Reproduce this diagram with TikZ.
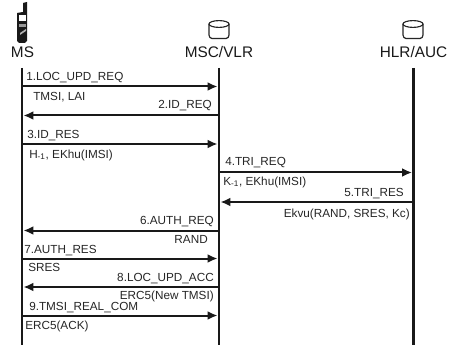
\documentclass[tikz,border=0pt]{standalone}
\usepackage{fontspec}
\setmainfont{Liberation Sans}
\usetikzlibrary{arrows.meta}
\tikzset{
  head/.style={inner sep=0pt,font=\fontsize{11.5pt}{12pt}\selectfont,text=black!90},
  lbl/.style={inner sep=0pt,font=\fontsize{8.8pt}{9pt}\selectfont,text=black!85},
  life/.style={line width=1.9pt,black!90},
  msg/.style={line width=1.5pt,black!90,-{Latex[length=7.5pt,width=6.5pt]},shorten >=1pt},
  db/.style={line width=0.85pt,black!85,fill=white},
}
\newcommand{\dbicon}[1]{%
  \draw[db] (#1-10,24) -- (#1-10,35) to[out=-90,in=180] (#1-7,38.5) -- (#1+7,38.5) to[out=0,in=-90] (#1+10,35) -- (#1+10,24);
  \draw[db] (#1,24) ellipse (10 and 3.4);
}
\begin{document}
\begin{tikzpicture}[x=0.75pt,y=-0.75pt]
\useasboundingbox (0,0) rectangle (456,345);
\fill[white] (0,0) rectangle (456,345);
% phone
\fill[black!90] (17,13) -- (23,12) -- (23,3) -- (27,2) -- (27,41) -- (25,43) -- (19,43) -- (17,41) -- cycle;
\fill[white] (19,15) rectangle (25.5,21);
\fill[white!60!black] (19,24) rectangle (25.5,27);
\fill[black!30] (20,33) -- (26,29) -- (26,31) -- (20,35) -- cycle;
\dbicon{219}
\dbicon{413}
\node[head] (ms) at (22.5,52) {MS};
\node[head] (msc) at (219,52) {MSC/VLR};
\node[head] (hlr) at (413.5,52) {HLR/AUC};
\coordinate (a0) at (22,68); \coordinate (aE) at (22,345);
\coordinate (b0) at (219,68); \coordinate (bE) at (219,345);
\coordinate (c0) at (413.5,68); \coordinate (cE) at (413.5,345);
\draw[life] (a0) -- (aE);
\draw[life] (b0) -- (bE);
\draw[life] (c0) -- (cE);
\foreach \n/\y in {1/86.5,2/115.5,3/144,6/230.5,7/258.5,8/287,9/315.5}{
  \coordinate (a\n) at (22,\y); \coordinate (b\n) at (219,\y);
}
\foreach \n/\y in {4/172.5,5/202}{
  \coordinate (b\n) at (219,\y); \coordinate (c\n) at (413.5,\y);
}
\draw[msg] (a1) -- (b1);
\draw[msg] (b2) -- (a2);
\draw[msg] (a3) -- (b3);
\draw[msg] (b4) -- (c4);
\draw[msg] (c5) -- (b5);
\draw[msg] (b6) -- (a6);
\draw[msg] (a7) -- (b7);
\draw[msg] (b8) -- (a8);
\draw[msg] (a9) -- (b9);
\node[lbl,anchor=west] (l1) at (26,77.5) {1.LOC\_UPD\_REQ};
\node[lbl,anchor=west] (l1b) at (33,97) {TMSI, LAI};
\node[lbl,anchor=east] (l2) at (212,105.5) {2.ID\_REQ};
\node[lbl,anchor=west] (l3) at (27,135.5) {3.ID\_RES};
\node[lbl,anchor=west] (l3b) at (29,155) {H\textsubscript{-1}, EKhu(IMSI)};
\node[lbl,anchor=west] (l4) at (225,163) {4.TRI\_REQ};
\node[lbl,anchor=west] (l4b) at (223,182) {K\textsubscript{-1}, EKhu(IMSI)};
\node[lbl,anchor=east] (l5) at (404,194) {5.TRI\_RES};
\node[lbl,anchor=east] (l5b) at (410,214) {Ekvu(RAND, SRES, Kc)};
\node[lbl,anchor=east] (l6) at (214,222) {6.AUTH\_REQ};
\node[lbl,anchor=east] (l6b) at (208,239) {RAND};
\node[lbl,anchor=west] (l7) at (24,250.5) {7.AUTH\_RES};
\node[lbl,anchor=west] (l7b) at (28,267.5) {SRES};
\node[lbl,anchor=east] (l8) at (214,279) {8.LOC\_UPD\_ACC};
\node[lbl,anchor=east] (l8b) at (214,296.5) {ERC5(New TMSI)};
\node[lbl,anchor=west] (l9) at (29,307.5) {9.TMSI\_REAL\_COM};
\node[lbl,anchor=west] (l9b) at (25,326) {ERC5(ACK)};
\end{tikzpicture}
\end{document}
